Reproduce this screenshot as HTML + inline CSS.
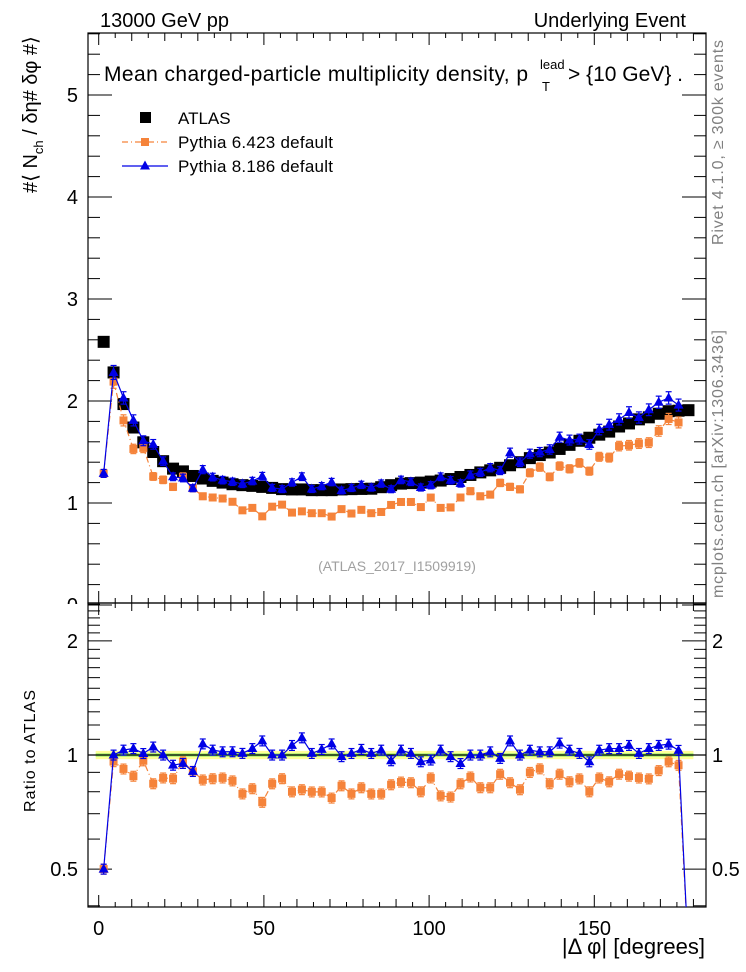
<!DOCTYPE html>
<html><head><meta charset="utf-8"><style>
html,body{margin:0;padding:0;background:#fff}
svg{display:block;font-family:"Liberation Sans",sans-serif}
</style></head><body>
<svg id="chart" width="746" height="972" viewBox="0 0 746 972" xmlns="http://www.w3.org/2000/svg">
<g id="g"></g>
</svg>
<script>
const bins = [1.5,4.5,7.5,10.5,13.5,16.5,19.5,22.5,25.5,28.5,31.5,34.5,37.5,40.5,43.5,46.5,49.5,52.5,55.5,58.5,61.5,64.5,67.5,70.5,73.5,76.5,79.5,82.5,85.5,88.5,91.5,94.5,97.5,100.5,103.5,106.5,109.5,112.5,115.5,118.5,121.5,124.5,127.5,130.5,133.5,136.5,139.5,142.5,145.5,148.5,151.5,154.5,157.5,160.5,163.5,166.5,169.5,172.5,175.5,178.5];
const atlas = [2.58,2.28,1.97,1.74,1.595,1.5,1.41,1.337,1.31,1.265,1.24,1.217,1.2,1.184,1.175,1.168,1.158,1.148,1.136,1.133,1.133,1.126,1.126,1.126,1.133,1.136,1.138,1.14,1.155,1.175,1.19,1.195,1.2,1.21,1.22,1.235,1.255,1.275,1.3,1.32,1.345,1.37,1.4,1.44,1.47,1.495,1.53,1.57,1.61,1.64,1.67,1.7,1.75,1.78,1.82,1.84,1.875,1.9,1.905,1.91];
const py6 = [1.29,2.19,1.81,1.53,1.54,1.26,1.227,1.158,1.258,1.145,1.066,1.054,1.044,1.012,0.928,0.952,0.869,0.964,0.984,0.906,0.918,0.9,0.9,0.867,0.94,0.897,0.933,0.9,0.912,0.981,1.01,1.01,0.96,1.053,0.952,0.957,1.054,1.116,1.066,1.082,1.197,1.158,1.134,1.296,1.352,1.256,1.362,1.335,1.393,1.312,1.453,1.445,1.558,1.566,1.583,1.592,1.706,1.824,1.79,0];
const py8 = [1.29,2.28,2.03,1.81,1.61,1.575,1.41,1.257,1.245,1.145,1.327,1.254,1.224,1.208,1.187,1.215,1.262,1.148,1.136,1.201,1.258,1.137,1.165,1.205,1.122,1.147,1.178,1.151,1.19,1.135,1.226,1.207,1.152,1.174,1.257,1.223,1.192,1.275,1.3,1.346,1.318,1.493,1.4,1.483,1.499,1.525,1.645,1.617,1.626,1.574,1.72,1.768,1.82,1.887,1.838,1.914,1.988,2.03,1.96,0];
const mainTicks = [0,1,2,3,4,5];
const ratioTicks = [0.5,1,2];
const xTicks = [0,50,100,150];

const NS="http://www.w3.org/2000/svg";
const g=document.getElementById('g');
const L=88,R=706,T=33,MB=603,RB=907;
const X=v=>98.7+(v)*3.304;
const Y=v=>605-102*v;
const YR=r=>755-379*Math.log10(r);
function el(tag,attrs,parent){const e=document.createElementNS(NS,tag);for(const k in attrs)e.setAttribute(k,attrs[k]);(parent||g).appendChild(e);return e;}
function txt(s,x,y,size,attrs){const e=el('text',Object.assign({x:x,y:y,'font-size':size},attrs||{}));e.textContent=s;return e;}

const defs=el('defs',{});
const c1=el('clipPath',{id:'cm'},defs);el('rect',{x:L,y:T,width:R-L,height:MB-T},c1);
const c2=el('clipPath',{id:'cr'},defs);el('rect',{x:L,y:MB,width:R-L,height:RB-MB},c2);

const band=el('rect',{x:X(0)-3,y:YR(1.025),width:X(180)-X(0)+3,height:YR(0.975)-YR(1.025),fill:'#ffff99'});


el('rect',{x:X(0)-3,y:YR(1.01),width:X(180)-X(0)+3,height:YR(0.99)-YR(1.01),fill:'#99ee66'});
el('line',{x1:L,x2:R,y1:YR(1),y2:YR(1),stroke:'#000','stroke-width':1.2});

const f1=el('rect',{x:L,y:T,width:R-L,height:MB-T,fill:'none',stroke:'#000','stroke-width':1.2});


const f2=el('rect',{x:L,y:MB,width:R-L,height:RB-MB,fill:'none',stroke:'#000','stroke-width':1.2});



for(let d=0;d<=180;d+=5){
  const len=d%50===0?12:(d%10===0?8:5);const x=X(d);
  el('line',{x1:x,x2:x,y1:T,y2:T+len,stroke:'#000'});
  el('line',{x1:x,x2:x,y1:MB,y2:MB-len,stroke:'#000'});
  el('line',{x1:x,x2:x,y1:MB,y2:MB+len,stroke:'#000'});
  el('line',{x1:x,x2:x,y1:RB,y2:RB-len,stroke:'#000'});
}
xTicks.forEach(v=>{const t=txt(String(v),X(v),RB+28,20,{'text-anchor':'middle'});

});
for(let i=0;i<=28;i++){const v=i*0.2;const y=Y(v);if(y<T)continue;const len=i%5===0?24:12;
  el('line',{x1:L,x2:L+len,y1:y,y2:y,stroke:'#000'});el('line',{x1:R,x2:R-len,y1:y,y2:y,stroke:'#000'});}
mainTicks.forEach(v=>{const t=txt(String(v),78,Y(v)+7,20,{'text-anchor':'end'});

});
el('rect',{x:0,y:MB+1,width:L-1,height:20,fill:'#fff'});
const rt=[0.4,0.5,0.6,0.7,0.8,0.9,1,1.1,1.2,1.3,1.4,1.5,1.6,1.7,1.8,1.9,2,2.1,2.2,2.3,2.4,2.5];
rt.forEach(v=>{const y=YR(v);if(y<MB||y>RB)return;const len=(v===0.5||v===1||v===2)?24:12;
  el('line',{x1:L,x2:L+len,y1:y,y2:y,stroke:'#000'});el('line',{x1:R,x2:R-len,y1:y,y2:y,stroke:'#000'});});
ratioTicks.forEach(v=>{const t=txt(String(v),78,YR(v)+7,20,{'text-anchor':'end'});


const t2=txt(String(v),712,YR(v)+7,20);

});

const O='#f5833a',B='#0000e6';
function series(vals,ref,color,marker,dash,name){
  const gm=el('g',{'clip-path':'url(#cm)'});
  const gr=el('g',{'clip-path':'url(#cr)'});
  let pm=[],pr=[];
  vals.forEach((v,i)=>{ if(v>0)pm.push(X(bins[i])+','+Y(v)); const r=v/ref[i]; pr.push(X(bins[i])+','+(r>0?YR(r):RB+50));});
  el('polyline',{points:pm.join(' '),fill:'none',stroke:color,'stroke-width':1.2,'stroke-dasharray':dash||'none'},gm);
  el('polyline',{points:pr.join(' '),fill:'none',stroke:color,'stroke-width':1.2,'stroke-dasharray':dash||'none'},gr);
  vals.forEach((v,i)=>{ if(!(v>0))return; const x=X(bins[i]);
    [[gm,Y(v),Y(v*1.03),Y(v*0.97)],[gr,YR(v/ref[i]),YR(v/ref[i]*1.03),YR(v/ref[i]*0.97)]].forEach(([par,y,y1,y2])=>{
      el('line',{x1:x,x2:x,y1:y1,y2:y2,stroke:color,'stroke-width':1.2},par);
      el('line',{x1:x-3,x2:x+3,y1:y1,y2:y1,stroke:color,'stroke-width':1.2},par);
      el('line',{x1:x-3,x2:x+3,y1:y2,y2:y2,stroke:color,'stroke-width':1.2},par);
      let m;
      if(marker==='sq') m=el('rect',{x:x-4,y:y-4,width:8,height:8,fill:color},par);
      else m=el('polygon',{points:`${x},${y-5.5} ${x-5},${y+3.5} ${x+5},${y+3.5}`,fill:color},par);
      
      
    });
  });
}
const ga=el('g',{'clip-path':'url(#cm)'});


atlas.forEach((v,i)=>{const m=el('rect',{x:X(bins[i])-6,y:Y(v)-6,width:12,height:12,fill:'#000'},ga);

});
series(py6,atlas,O,'sq','6,3,1,3','pythia6');
series(py8,atlas,B,'tri',null,'pythia8');

const lg=el('g',{});


el('rect',{x:140,y:112,width:11,height:11,fill:'#000'},lg);
txt('ATLAS',178,124,17,{});
el('line',{x1:122,x2:168,y1:142,y2:142,stroke:O,'stroke-width':1.2,'stroke-dasharray':'6,3,1,3'},lg);
el('rect',{x:141,y:138,width:8,height:8,fill:O},lg);
txt('Pythia 6.423 default',178,148,17,{textLength:155});
el('line',{x1:122,x2:168,y1:166,y2:166,stroke:B,'stroke-width':1.2},lg);
el('polygon',{points:'145,160.5 140,169.5 150,169.5',fill:B},lg);
txt('Pythia 8.186 default',178,172,17,{textLength:155});

txt('13000 GeV pp',100,27,20,{});
txt('Underlying Event',686,27,20,{'text-anchor':'end'});
const ti=txt('Mean charged-particle multiplicity density, p',104,81,21,{textLength:424});

txt('lead',540,69,13,{});
txt('T',542,91,13,{});
txt('> {10 GeV} .',568,81,21,{});
txt('(ATLAS_2017_I1509919)',397,571,14,{'text-anchor':'middle',fill:'#a0a0a0'});
const xt=txt('|\u0394 \u03c6| [degrees]',705,954,22,{'text-anchor':'end'});

const yt=txt('#\u27e8 N',0,0,20,{transform:'translate(37,193) rotate(-90)'});

const ts=el('tspan',{'font-size':13,dy:6},yt);ts.textContent='ch';
const ts2=el('tspan',{dy:-6},yt);ts2.textContent=' / \u03b4\u03b7# \u03b4\u03c6 #\u27e9';
const rl=txt('Ratio to ATLAS',0,0,16,{transform:'translate(35,812) rotate(-90)',textLength:122});

const rv=txt('Rivet 4.1.0, \u2265 300k events',0,0,16,{transform:'translate(723,245) rotate(-90)',fill:'#808080',textLength:205});

const mc=txt('mcplots.cern.ch [arXiv:1306.3436]',0,0,16,{transform:'translate(723,598) rotate(-90)',fill:'#808080',textLength:268});

</script>
</body></html>
